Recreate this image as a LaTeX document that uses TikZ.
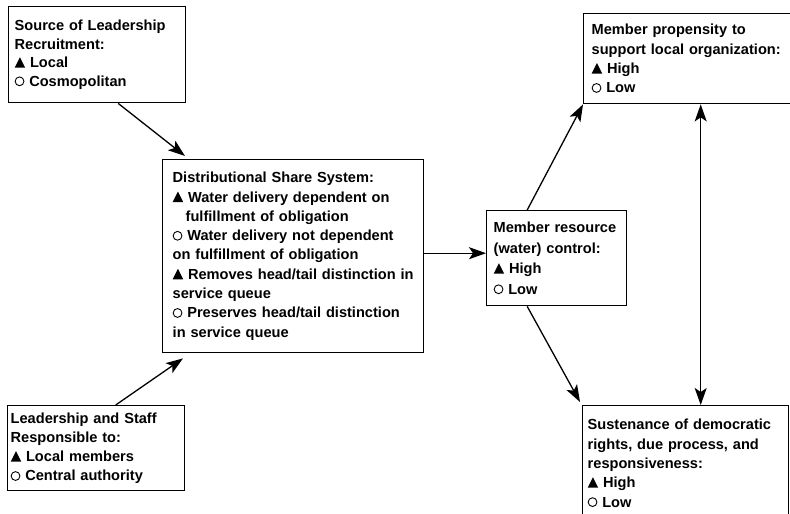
\documentclass[tikz,border=0pt]{standalone}
\usepackage{fontspec}
\setmainfont{Liberation Sans}
\usetikzlibrary{arrows.meta}
\newcommand{\hitri}{\tikz[baseline=0pt]\fill (0pt,0pt) -- (10.5pt,0pt) -- (5.25pt,10.5pt) -- cycle;}
\newcommand{\locirc}{\tikz[baseline=0pt]\draw[line width=0.9pt] (4.5pt,4.9pt) circle (4.4pt);}
\tikzset{
  box/.style={draw, line width=1.4pt, anchor=north west, align=left, inner xsep=6pt, inner ysep=0pt,
    font=\bfseries\fontsize{14.6}{19.3}\selectfont},
  link/.style={line width=1.3pt, -{Stealth[length=17pt,width=12pt,inset=4pt]}},
  twoway/.style={line width=1.3pt, {Stealth[length=17pt,width=12pt,inset=4pt]}-{Stealth[length=17pt,width=12pt,inset=4pt]}}
}

\begin{document}
\begin{tikzpicture}[x=1pt,y=-1pt]
  \useasboundingbox (0,0) rectangle (790,514);
  \clip (0,0) rectangle (790,514);
  \node[box, text width=165pt, minimum height=96pt,
    font=\bfseries\fontsize{14.6}{18.5}\selectfont] (src) at (8,6)
    {Source of Leadership\\Recruitment:\\\hitri\ Local\\\locirc\ Cosmopolitan};
  \node[box, inner xsep=10pt, text width=241pt, minimum height=193pt] (dss) at (162,159)
    {Distributional Share System:\\
     \hitri\ Water delivery dependent on\\
     \hspace*{13pt}fulfillment of obligation\\
     \locirc\ Water delivery not dependent\\
     on fulfillment of obligation\\
     \mbox{\hitri\ Removes head/tail distinction in}\\
     service queue\\
     \locirc\ Preserves head/tail distinction\\
     in service queue};
  \node[box, inner xsep=3pt, text width=171pt, minimum height=85pt] (staff) at (7,405)
    {Leadership and Staff\\Responsible to:\\\hitri\ Local members\\\locirc\ Central authority};
  \node[box, inner xsep=7pt, text width=126pt, minimum height=95pt,
    font=\bfseries\fontsize{14.6}{20.5}\selectfont] (ctrl) at (486,210)
    {Member resource\\(water) control:\\\hitri\ High\\\locirc\ Low};
  \node[box, inner xsep=8pt, text width=209pt, minimum height=90pt] (prop) at (583,13)
    {Member propensity to\\support local organization:\\\hitri\ High\\\locirc\ Low};
  \node[box, inner xsep=5pt, text width=196pt, minimum height=115pt] (rights) at (582,405)
    {Sustenance of democratic\\rights, due process, and\\responsiveness:\\\hitri\ High\\\locirc\ Low};
  \coordinate (mid) at ([yshift=5pt]ctrl.west);
  \draw[link] ([xshift=21pt]src.south) -- ([shift={(23pt,3pt)}]dss.north west);
  \draw[link] ([xshift=19.5pt]staff.north) -- ([shift={(21pt,-5pt)}]dss.south west);
  \draw[link] (mid -| dss.east) -- (mid);
  \draw[link] ([xshift=-29.5pt]ctrl.north) -- (prop.south west);
  \draw[link] ([xshift=-29.5pt]ctrl.south) -- ([shift={(-2pt,3pt)}]rights.north west);
  \draw[twoway] ([xshift=15pt]rights.north) -- ([xshift=15pt]rights.north |- prop.south);
\end{tikzpicture}
\end{document}
